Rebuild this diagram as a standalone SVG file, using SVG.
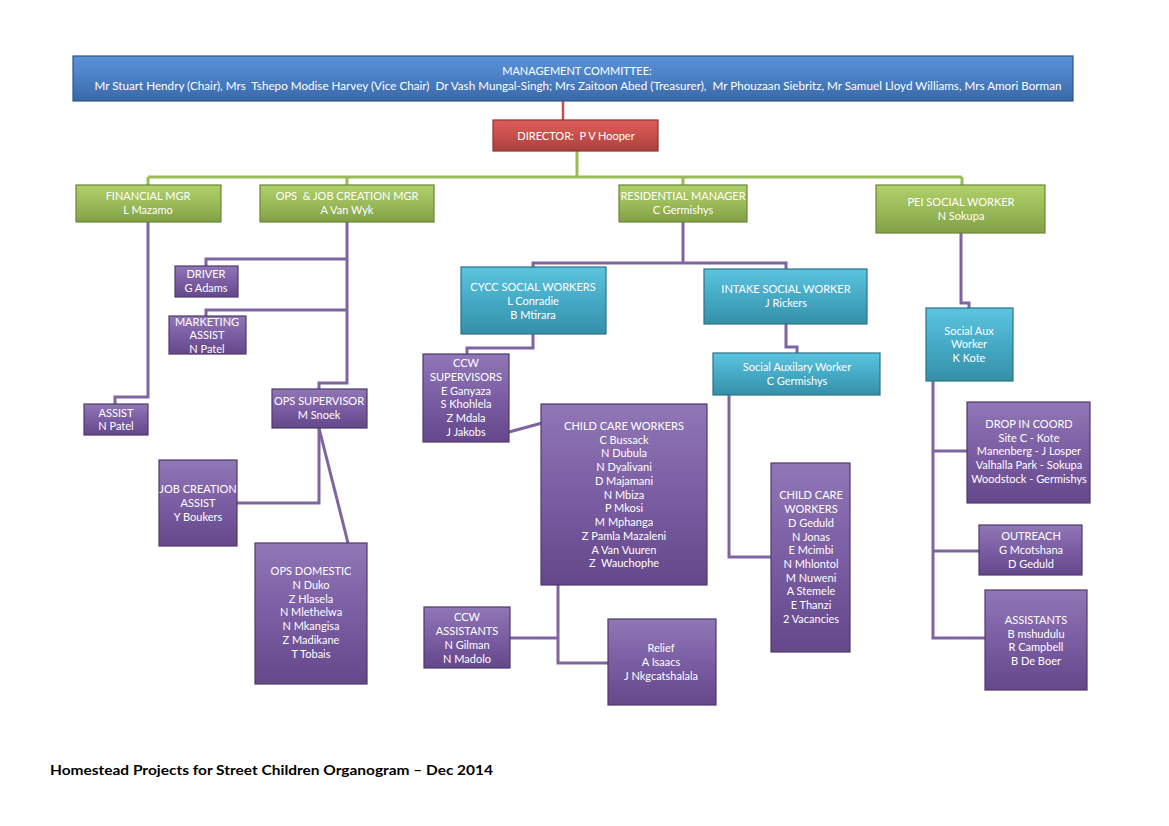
<svg xmlns="http://www.w3.org/2000/svg" width="1169" height="826" viewBox="0 0 1169 826">
<defs>
<linearGradient id="gBlue" x1="0" y1="0" x2="0" y2="1"><stop offset="0" stop-color="#5b93d8"/><stop offset="0.5" stop-color="#4a7fc4"/><stop offset="1" stop-color="#3a68a6"/></linearGradient>
<linearGradient id="gRed" x1="0" y1="0" x2="0" y2="1"><stop offset="0" stop-color="#dc5e5a"/><stop offset="0.5" stop-color="#c8504c"/><stop offset="1" stop-color="#a8403d"/></linearGradient>
<linearGradient id="gGreen" x1="0" y1="0" x2="0" y2="1"><stop offset="0" stop-color="#b0d06a"/><stop offset="0.5" stop-color="#9bbb59"/><stop offset="1" stop-color="#82a046"/></linearGradient>
<linearGradient id="gCyan" x1="0" y1="0" x2="0" y2="1"><stop offset="0" stop-color="#5cc4de"/><stop offset="0.5" stop-color="#45aac6"/><stop offset="1" stop-color="#3590a8"/></linearGradient>
<linearGradient id="gPurple" x1="0" y1="0" x2="0" y2="1"><stop offset="0" stop-color="#9077b6"/><stop offset="0.5" stop-color="#7b5da3"/><stop offset="1" stop-color="#64488a"/></linearGradient>
</defs>
<style>
.box{stroke-width:1.2}
.blue{fill:url(#gBlue);stroke:#2e5486}
.red{fill:url(#gRed);stroke:#8a3432}
.green{fill:url(#gGreen);stroke:#6b8536}
.cyan{fill:url(#gCyan);stroke:#2a7388}
.purple{fill:url(#gPurple);stroke:#4e3a6a}
text{font-family:Lato,"Liberation Sans",sans-serif;font-size:11px;fill:#ffffff;text-anchor:middle}
.pl{fill:none;stroke:#8064a2;stroke-width:3}
.gl{fill:none;stroke:#9bbb59;stroke-width:3}
.rl{fill:none;stroke:#c0504d;stroke-width:2.5}
.title{font-family:Lato,"Liberation Sans",sans-serif;font-size:14px;font-weight:bold;fill:#000000;text-anchor:start}
</style>
<rect width="1169" height="826" fill="#ffffff"/>
<g id="connectors">
<path class="rl" d="M563,101 V120"/>
<path class="gl" d="M577,151 V177 M148,177 H962 M148,177 V185 M347,177 V185 M683,177 V185 M962,177 V185"/>
<path class="pl" d="M148,222 V397 H115 V404"/>
<path class="pl" d="M347,222 V383 H319 V389"/>
<path class="pl" d="M347,259 H206 V266 M347,310 H206 V316"/>
<path class="pl" d="M319,428 V503 H237"/>
<path class="pl" d="M319,428 L348,543"/>
<path class="pl" d="M683,222 V263 H786 V269 M683,263 H533 V267"/>
<path class="pl" d="M533,334 V348 H467 V354"/>
<path class="pl" d="M509,432 L542,423"/>
<path class="pl" d="M558,585 V663 H608 M510,638 H558"/>
<path class="pl" d="M786,324 V347 H797 V353"/>
<path class="pl" d="M729,395 V557 H771"/>
<path class="pl" d="M961,233 V303 H969 V308"/>
<path class="pl" d="M933,381 V638 H985 M933,451 H967 M933,551 H979"/>
</g>
<g id="mgmt"><rect class="box blue" x="73" y="56" width="1000" height="45"/>
<text x="577" y="75">MANAGEMENT COMMITTEE:</text>
<text x="578" y="90" xml:space="preserve" textLength="967" lengthAdjust="spacingAndGlyphs">Mr Stuart Hendry (Chair), Mrs  Tshepo Modise Harvey (Vice Chair)  Dr Vash Mungal-Singh; Mrs Zaitoon Abed (Treasurer),  Mr Phouzaan Siebritz, Mr Samuel Lloyd Williams, Mrs Amori Borman</text></g>
<g id="director"><rect class="box red" x="493" y="120" width="165" height="31"/>
<text x="576" y="140" xml:space="preserve">DIRECTOR:  P V Hooper</text></g>
<g id="fin"><rect class="box green" x="76" y="185" width="145" height="37"/>
<text x="148" y="200">FINANCIAL MGR</text><text x="148" y="214">L Mazamo</text></g>
<g id="ops"><rect class="box green" x="260" y="185" width="174" height="37"/>
<text x="347" y="200" xml:space="preserve">OPS  &amp; JOB CREATION MGR</text><text x="347" y="214">A Van Wyk</text></g>
<g id="res"><rect class="box green" x="619" y="185" width="128" height="37"/>
<text x="683" y="200">RESIDENTIAL MANAGER</text><text x="683" y="214">C Germishys</text></g>
<g id="pei"><rect class="box green" x="876" y="185" width="169" height="48"/>
<text x="961" y="206">PEI SOCIAL WORKER</text><text x="961" y="220">N Sokupa</text></g>
<g id="driver"><rect class="box purple" x="175" y="266" width="63" height="31"/>
<text x="206" y="278">DRIVER</text><text x="206" y="292">G Adams</text></g>
<g id="marketing"><rect class="box purple" x="169" y="316" width="77" height="38"/>
<text x="207" y="326">MARKETING</text><text x="207" y="339">ASSIST</text><text x="207" y="353">N Patel</text></g>
<g id="assist"><rect class="box purple" x="84" y="404" width="64" height="31"/>
<text x="116" y="417">ASSIST</text><text x="116" y="430">N Patel</text></g>
<g id="opssup"><rect class="box purple" x="272" y="389" width="95" height="39"/>
<text x="319" y="405">OPS SUPERVISOR</text><text x="319" y="419">M Snoek</text></g>
<g id="jobcreation"><rect class="box purple" x="159" y="460" width="78" height="86"/>
<text x="198" y="493">JOB CREATION</text><text x="198" y="507">ASSIST</text><text x="198" y="521">Y Boukers</text></g>
<g id="opsdomestic"><rect class="box purple" x="255" y="543" width="112" height="141"/>
<text x="311" y="575">OPS DOMESTIC</text><text x="311" y="589">N Duko</text><text x="311" y="603">Z Hlasela</text><text x="311" y="616">N Mlethelwa</text><text x="311" y="630">N Mkangisa</text><text x="311" y="644">Z Madikane</text><text x="311" y="658">T Tobais</text></g>
<g id="cycc"><rect class="box cyan" x="461" y="267" width="145" height="67"/>
<text x="533" y="291">CYCC SOCIAL WORKERS</text><text x="533" y="305">L Conradie</text><text x="533" y="319">B Mtirara</text></g>
<g id="intake"><rect class="box cyan" x="704" y="269" width="163" height="55"/>
<text x="786" y="293">INTAKE SOCIAL WORKER</text><text x="786" y="307">J Rickers</text></g>
<g id="socauxw"><rect class="box cyan" x="713" y="353" width="167" height="42"/>
<text x="797" y="371">Social Auxilary Worker</text><text x="797" y="385">C Germishys</text></g>
<g id="socaux"><rect class="box cyan" x="926" y="308" width="87" height="73"/>
<text x="969" y="335">Social Aux</text><text x="969" y="348">Worker</text><text x="969" y="362">K Kote</text></g>
<g id="ccwsup"><rect class="box purple" x="423" y="354" width="86" height="88"/>
<text x="466" y="367">CCW</text><text x="466" y="381">SUPERVISORS</text><text x="466" y="395">E Ganyaza</text><text x="466" y="408">S Khohlela</text><text x="466" y="422">Z Mdala</text><text x="466" y="436">J Jakobs</text></g>
<g id="ccw"><rect class="box purple" x="541" y="404" width="166" height="181"/>
<text x="624" y="430">CHILD CARE WORKERS</text><text x="624" y="444">C Bussack</text><text x="624" y="457">N Dubula</text><text x="624" y="471">N Dyalivani</text><text x="624" y="485">D Majamani</text><text x="624" y="499">N Mbiza</text><text x="624" y="512">P Mkosi</text><text x="624" y="526">M Mphanga</text><text x="624" y="540">Z Pamla Mazaleni</text><text x="624" y="554">A Van Vuuren</text><text x="624" y="567" xml:space="preserve">Z  Wauchophe</text></g>
<g id="ccwassist"><rect class="box purple" x="424" y="607" width="86" height="61"/>
<text x="467" y="621">CCW</text><text x="467" y="635">ASSISTANTS</text><text x="467" y="649">N Gilman</text><text x="467" y="663">N Madolo</text></g>
<g id="relief"><rect class="box purple" x="608" y="619" width="108" height="86"/>
<text x="661" y="652">Relief</text><text x="661" y="666">A Isaacs</text><text x="661" y="680">J Nkgcatshalala</text></g>
<g id="ccw2"><rect class="box purple" x="771" y="463" width="79" height="189"/>
<text x="811" y="499">CHILD CARE</text><text x="811" y="513">WORKERS</text><text x="811" y="527">D Geduld</text><text x="811" y="541">N Jonas</text><text x="811" y="554">E Mcimbi</text><text x="811" y="568">N Mhlontol</text><text x="811" y="582">M Nuweni</text><text x="811" y="595">A Stemele</text><text x="811" y="609">E Thanzi</text><text x="811" y="623">2 Vacancies</text></g>
<g id="dropin"><rect class="box purple" x="967" y="402" width="123" height="101"/>
<text x="1029" y="428">DROP IN COORD</text><text x="1029" y="442">Site C - Kote</text><text x="1029" y="455">Manenberg - J Losper</text><text x="1029" y="469">Valhalla Park - Sokupa</text><text x="1029" y="483">Woodstock - Germishys</text></g>
<g id="outreach"><rect class="box purple" x="979" y="525" width="103" height="50"/>
<text x="1031" y="540">OUTREACH</text><text x="1031" y="554">G Mcotshana</text><text x="1031" y="568">D Geduld</text></g>
<g id="assistants"><rect class="box purple" x="985" y="590" width="102" height="100"/>
<text x="1036" y="624">ASSISTANTS</text><text x="1036" y="638">B mshudulu</text><text x="1036" y="651">R Campbell</text><text x="1036" y="665">B De Boer</text></g>
<text class="title" x="50" y="775" textLength="443" lengthAdjust="spacingAndGlyphs">Homestead Projects for Street Children Organogram – Dec 2014</text>
</svg>
